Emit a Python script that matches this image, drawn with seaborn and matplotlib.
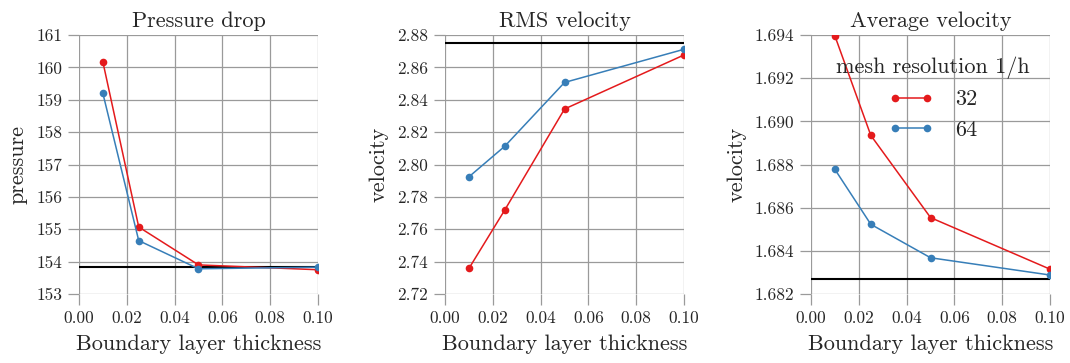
import matplotlib
matplotlib.use("Agg")
import matplotlib.pyplot as plt
import seaborn as sns
import pandas as pd

# ---- data ----
thickness = [0.01, 0.025, 0.05, 0.1]
resolutions = ["32", "64"]

pressure_32 = [160.17, 155.07, 153.90, 153.75]
pressure_64 = [159.20, 154.65, 153.78, 153.83]
pressure_ref = 153.85

rms_32 = [2.7358, 2.7719, 2.8343, 2.8677]
rms_64 = [2.7924, 2.8113, 2.8507, 2.8712]
rms_ref = 2.8749

avg_32 = [1.69395, 1.68935, 1.68554, 1.68315]
avg_64 = [1.68777, 1.68523, 1.68368, 1.68288]
avg_ref = 1.68269

titles = ["Pressure drop", "RMS velocity", "Average velocity"]
ylabels = ["pressure", "velocity", "velocity"]
xlabel = "Boundary layer thickness"
legend_title = "mesh resolution 1/h"
ylims = [(153, 161), (2.72, 2.88), (1.682, 1.694)]
yticks = [[153, 154, 155, 156, 157, 158, 159, 160, 161],
          [2.72, 2.74, 2.76, 2.78, 2.80, 2.82, 2.84, 2.86, 2.88],
          [1.682, 1.684, 1.686, 1.688, 1.690, 1.692, 1.694]]
yfmt = ["{:.0f}", "{:.2f}", "{:.3f}"]
xticks = [0.00, 0.02, 0.04, 0.06, 0.08, 0.10]

palette = {"32": "#e41a1c", "64": "#377eb8"}

def make_df(v32, v64):
    rows = []
    for r, vals in zip(resolutions, [v32, v64]):
        for x, y in zip(thickness, vals):
            rows.append({"thickness": x, "value": y, "res": r})
    return pd.DataFrame(rows)

dfs = [make_df(pressure_32, pressure_64), make_df(rms_32, rms_64), make_df(avg_32, avg_64)]
refs = [pressure_ref, rms_ref, avg_ref]

sns.set_theme(style="whitegrid")
plt.rcParams["font.family"] = ["cmr10", "DejaVu Serif"]
plt.rcParams["mathtext.fontset"] = "cm"
plt.rcParams["axes.formatter.use_mathtext"] = True
plt.rcParams["legend.numpoints"] = 2

fig = plt.figure(figsize=(10.7, 3.63), dpi=100)
lefts = [0.0738, 0.4159, 0.758]
grid_col = "#9a9a9a"
for i in range(3):
    ax = fig.add_axes([lefts[i], 0.19, 0.2234, 0.7135])
    sns.lineplot(data=dfs[i], x="thickness", y="value", hue="res", palette=palette,
                 marker="o", markersize=5.5, markeredgewidth=0, linewidth=1.1,
                 ax=ax, legend=(i == 2))
    ax.axhline(refs[i], color="black", lw=1.5, zorder=1.5)
    ax.set_xlim(0, 0.1)
    ax.set_ylim(*ylims[i])
    ax.set_xticks(xticks)
    ax.set_xticklabels(["{:.2f}".format(t) for t in xticks])
    ax.set_yticks(yticks[i])
    ax.set_yticklabels([yfmt[i].format(t) for t in yticks[i]])
    ax.grid(True, color=grid_col, lw=0.9)
    for s in ax.spines.values():
        s.set_visible(False)
    ax.tick_params(axis="both", length=8, width=0.9, color=grid_col, labelsize=12.5,
                   bottom=True, left=True, pad=4)
    ax.set_title(titles[i], fontsize=16, pad=6)
    ax.set_xlabel(xlabel, fontsize=16, labelpad=6)
    ax.set_ylabel(ylabels[i], fontsize=16, labelpad=6)
    if i == 2:
        leg = ax.legend(title=legend_title, frameon=False, fontsize=16, title_fontsize=16,
                        loc="upper right", bbox_to_anchor=(1.0, 0.995),
                        handlelength=2.0, handletextpad=1.0, labelspacing=0.5)

fig.savefig("out.png", dpi=100)
